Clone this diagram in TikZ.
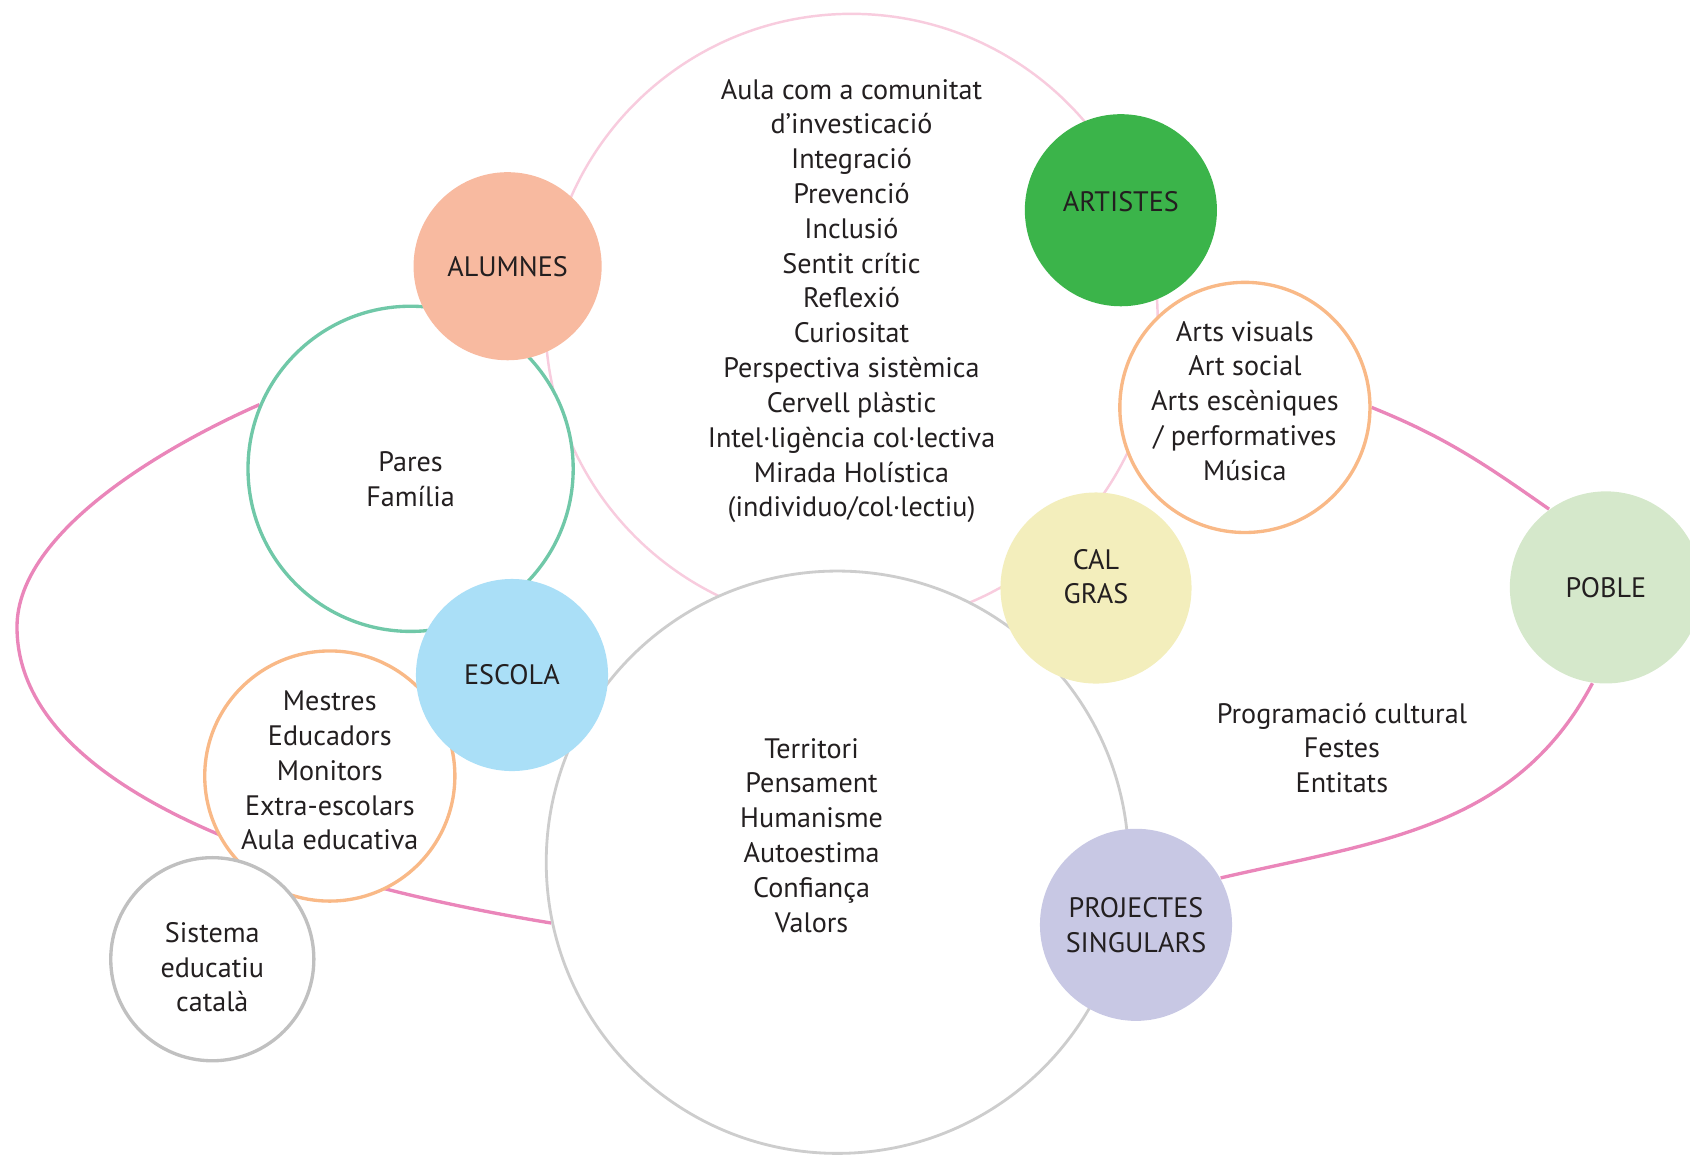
\documentclass[tikz,border=0pt]{standalone}
\usepackage{fontspec}
\setmainfont{PT Sans}
\usepackage{tikz}
\usetikzlibrary{backgrounds}
\definecolor{ink}{RGB}{35,31,32}
\definecolor{pink_line}{RGB}{248,204,222}
\definecolor{magenta_col}{RGB}{234,134,186}
\definecolor{teal_line}{RGB}{112,200,168}
\definecolor{orange_line}{RGB}{249,185,135}
\definecolor{gray_line}{RGB}{205,205,205}
\definecolor{gray_ring}{RGB}{192,192,192}
\definecolor{alumnes_col}{RGB}{248,186,160}
\definecolor{artistes_col}{RGB}{59,180,74}
\definecolor{escola_col}{RGB}{170,223,247}
\definecolor{calgras_col}{RGB}{243,238,188}
\definecolor{poble_col}{RGB}{213,232,203}
\definecolor{projectes_col}{RGB}{200,200,228}
\tikzstyle{txt} = [align=center, text=ink, font=\fontsize{8}{9.9}\selectfont]
\tikzstyle{disc} = [circle, inner sep=0pt, minimum size=1.92cm, align=center, text=ink, font=\fontsize{8}{9.9}\selectfont]
\tikzstyle{ring} = [circle, draw, fill=white, line width=0.95pt, inner sep=0pt, align=center, text=ink, font=\fontsize{8}{9.9}\selectfont]
\tikzstyle{magenta_line} = [draw=magenta_col, line width=0.95pt]

\begin{document}
\begin{tikzpicture}[x=0.01cm, y=0.01cm]
			\useasboundingbox (0,0) rectangle (1690,-1156);

			\node [ring, draw=pink_line, line width=0.7pt, minimum size=6.12cm] (aula) at (851.5,-320) {};
			\node [ring, draw=gray_line, line width=0.8pt, minimum size=5.82cm] (territori) at (837.4,-862.2) {};

			\node [ring, draw=teal_line, minimum size=3.25cm] (pares) at (410.6,-468.8) {};
			\node [txt, below of=pares, node distance=0.1cm] (pares_txt) {Pares\\Família};
			\node [disc, fill=alumnes_col, minimum size=1.88cm] (alumnes) at (507.6,-266.2) {ALUMNES};

			\node [ring, draw=orange_line, minimum size=2.5cm] (mestres) at (329.8,-776) {};
			\node [txt, above of=mestres, node distance=0.055cm] (mestres_txt) {Mestres\\Educadors\\Monitors\\Extra-escolars\\Aula educativa};
			\node [disc, fill=escola_col] (escola) at (512,-675) {ESCOLA};
			\node [ring, draw=gray_ring, minimum size=2.03cm] (sistema) at (212.3,-959.2) {};
			\node [txt, below of=sistema, node distance=0.08cm] (sistema_txt) {Sistema\\educatiu\\català};

			\node [disc, fill=artistes_col] (artistes) at (1120.9,-210.2) {};
			\node [txt, above of=artistes, node distance=0.086cm] (artistes_txt) {ARTISTES};
			\node [ring, draw=orange_line, minimum size=2.5cm] (arts) at (1244.9,-407.4) {};
			\node [txt, above of=arts, node distance=0.065cm] (arts_txt) {Arts visuals\\Art social\\Arts escèniques\\/ performatives\\Música};
			\node [disc, fill=calgras_col, minimum size=1.91cm] (cal_gras) at (1096,-588) {};
			\node [txt, above of=cal_gras, node distance=0.113cm] (cal_gras_txt) {CAL\\GRAS};
			\node [disc, fill=poble_col] (poble) at (1605.9,-587.4) {POBLE};
			\node [disc, fill=projectes_col] (projectes) at (1136,-924.8) {PROJECTES\\SINGULARS};

			\node [txt] (aula_txt) at (851.5,-301) {Aula com a comunitat\\d’investicació\\Integració\\Prevenció\\Inclusió\\Sentit crític\\Reflexió\\Curiositat\\Perspectiva sistèmica\\Cervell plàstic\\Intel·ligència col·lectiva\\Mirada Holística\\(individuo/col·lectiu)};
			\node [txt] (territori_txt) at (811.6,-835.3) {Territori\\Pensament\\Humanisme\\Autoestima\\Confiança\\Valors};
			\node [txt] (programacio) at (1341.9,-748) {Programació cultural\\Festes\\Entitats};

			\begin{scope}[on background layer]
				\coordinate (loop_w) at (17,-627);
				\path [magenta_line] (pares.157) .. controls (170,-444) and (17,-530) .. (loop_w) .. controls (17,-777) and (253,-874) .. (territori.192);
				\path [magenta_line] (arts.east) to[out=-22, in=145] (poble.126);
				\path [magenta_line] (projectes.29) to[out=13, in=242] (poble.262);
			\end{scope}
		\end{tikzpicture}
\end{document}
